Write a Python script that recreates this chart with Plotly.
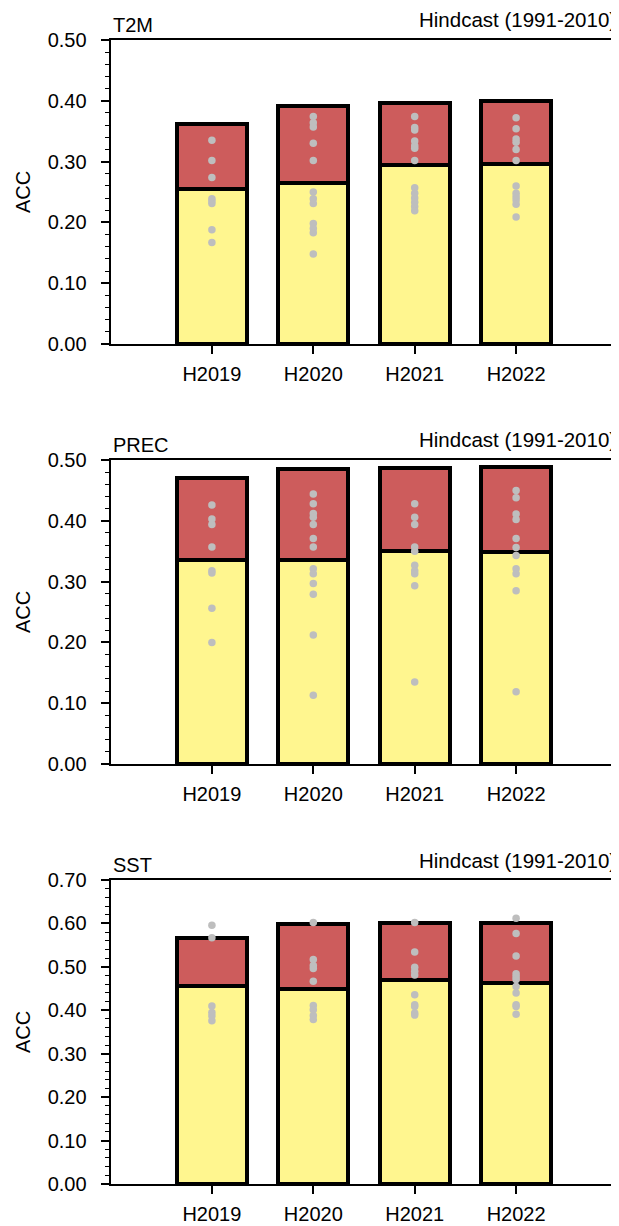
import plotly.graph_objects as go

W, H = 619, 1226
OFF = 8  # page body margin offset compensation

categories = ["H2019", "H2020", "H2021", "H2022"]

panel_names = ["T2M", "PREC", "SST"]
subtitle = "Hindcast (1991-2010)"
y_title = "ACC"

# T2M
t2m_base = [0.255, 0.265, 0.295, 0.296]
t2m_total = [0.362, 0.392, 0.397, 0.399]
t2m_h2019 = [0.335, 0.302, 0.274, 0.239, 0.235, 0.231, 0.188, 0.167]
t2m_h2020 = [0.374, 0.364, 0.357, 0.330, 0.302, 0.250, 0.239, 0.231, 0.198, 0.190, 0.183, 0.148]
t2m_h2021 = [0.374, 0.356, 0.352, 0.334, 0.326, 0.322, 0.302, 0.257, 0.248, 0.240, 0.233, 0.226, 0.219]
t2m_h2022 = [0.372, 0.354, 0.337, 0.332, 0.320, 0.302, 0.260, 0.248, 0.242, 0.237, 0.230, 0.209]

# PREC
prec_base = [0.335, 0.335, 0.351, 0.349]
prec_total = [0.471, 0.485, 0.487, 0.488]
prec_h2019 = [0.426, 0.403, 0.394, 0.357, 0.318, 0.314, 0.256, 0.200]
prec_h2020 = [0.444, 0.428, 0.412, 0.406, 0.394, 0.371, 0.357, 0.321, 0.313, 0.297, 0.279, 0.212, 0.113]
prec_h2021 = [0.428, 0.406, 0.394, 0.357, 0.350, 0.327, 0.318, 0.313, 0.293, 0.135]
prec_h2022 = [0.450, 0.438, 0.411, 0.402, 0.371, 0.356, 0.343, 0.321, 0.313, 0.285, 0.119]

# SST
sst_base = [0.455, 0.450, 0.470, 0.463]
sst_total = [0.566, 0.599, 0.601, 0.601]
sst_h2019 = [0.596, 0.567, 0.410, 0.395, 0.387, 0.376]
sst_h2020 = [0.602, 0.517, 0.503, 0.496, 0.467, 0.411, 0.401, 0.388, 0.379]
sst_h2021 = [0.602, 0.534, 0.499, 0.490, 0.481, 0.436, 0.413, 0.409, 0.394, 0.389]
sst_h2022 = [0.612, 0.577, 0.525, 0.484, 0.477, 0.471, 0.455, 0.440, 0.413, 0.409, 0.391]

y_max = [0.5, 0.5, 0.7]

panels = [
    (t2m_base, t2m_total, [t2m_h2019, t2m_h2020, t2m_h2021, t2m_h2022]),
    (prec_base, prec_total, [prec_h2019, prec_h2020, prec_h2021, prec_h2022]),
    (sst_base, sst_total, [sst_h2019, sst_h2020, sst_h2021, sst_h2022]),
]

YELLOW = "#FFF68F"
RED = "#CD5C5C"
DOT = "#BEBEBE"
FONT = "Liberation Sans, Arial, Helvetica, sans-serif"

# pixel layout of the plot boxes (screen coordinates)
x_left, x_right = 110.5, 617.5
tops = [40, 460, 880]
box_h = 304


def px_x(v):
    return (v - OFF) / W


def px_y(v):
    return 1 - (v - OFF) / H


fig = go.Figure()
layout = dict(
    width=W, height=H, margin=dict(l=0, r=0, t=0, b=0, autoexpand=False),
    paper_bgcolor="white", plot_bgcolor="white",
    barmode="stack", showlegend=False,
    font=dict(family=FONT, color="black", size=20),
)
annotations = []

for i, (base, total, members) in enumerate(panels):
    xa = "x" if i == 0 else f"x{i+1}"
    ya = "y" if i == 0 else f"y{i+1}"
    upper = [t - b for t, b in zip(total, base)]
    fig.add_trace(go.Bar(x=categories, y=base, xaxis=xa, yaxis=ya, width=0.69,
                         marker=dict(color=YELLOW, line=dict(color="black", width=4))))
    fig.add_trace(go.Bar(x=categories, y=upper, xaxis=xa, yaxis=ya, width=0.69,
                         marker=dict(color=RED, line=dict(color="black", width=4))))
    xs, ys = [], []
    for c, vals in zip(categories, members):
        xs += [c] * len(vals)
        ys += vals
    fig.add_trace(go.Scatter(x=xs, y=ys, xaxis=xa, yaxis=ya, mode="markers",
                             marker=dict(color=DOT, size=7.5, line=dict(width=0)),
                             cliponaxis=False))

    top = tops[i]
    y1 = px_y(top)
    y0 = px_y(top + box_h)
    xkey = "xaxis" if i == 0 else f"xaxis{i+1}"
    ykey = "yaxis" if i == 0 else f"yaxis{i+1}"
    layout[xkey] = dict(
        domain=[px_x(x_left), px_x(x_right)], anchor=ya, type="category",
        range=[-1, 4], showgrid=False, zeroline=False, automargin=False,
        showline=True, linecolor="black", linewidth=1.8, mirror=True,
        ticks="outside", ticklen=8, tickwidth=1.5, tickcolor="black",
        tickfont=dict(size=20, family=FONT, color="black"),
        ticklabelstandoff=3,
    )
    layout[ykey] = dict(
        domain=[y0, y1], anchor=xa, range=[0, y_max[i]], automargin=False,
        dtick=0.1, tickformat=".2f", showgrid=False, zeroline=False,
        showline=True, linecolor="black", linewidth=1.8, mirror=True,
        ticks="outside", ticklen=8, tickwidth=1.5, tickcolor="black",
        tickfont=dict(size=20, family=FONT, color="black"),
        ticklabelstandoff=10,
        minor=dict(dtick=0.02, ticks="outside", ticklen=4, tickwidth=1.2, tickcolor="black"),
    )
    annotations.append(dict(text=panel_names[i], xref="paper", yref="paper",
                            x=px_x(111), y=px_y(top - 15), xanchor="left", yanchor="middle",
                            showarrow=False, font=dict(size=20, family=FONT, color="black")))
    annotations.append(dict(text=subtitle, xref="paper", yref="paper",
                            x=px_x(618), y=px_y(top - 20), xanchor="right", yanchor="middle",
                            showarrow=False, font=dict(size=20.5, family=FONT, color="black")))
    annotations.append(dict(text=y_title, xref="paper", yref="paper",
                            x=px_x(23), y=px_y(top + box_h / 2), xanchor="center", yanchor="middle",
                            textangle=-90, showarrow=False,
                            font=dict(size=20, family=FONT, color="black")))

layout["annotations"] = annotations
fig.update_layout(**layout)
fig.write_html("out.html")
